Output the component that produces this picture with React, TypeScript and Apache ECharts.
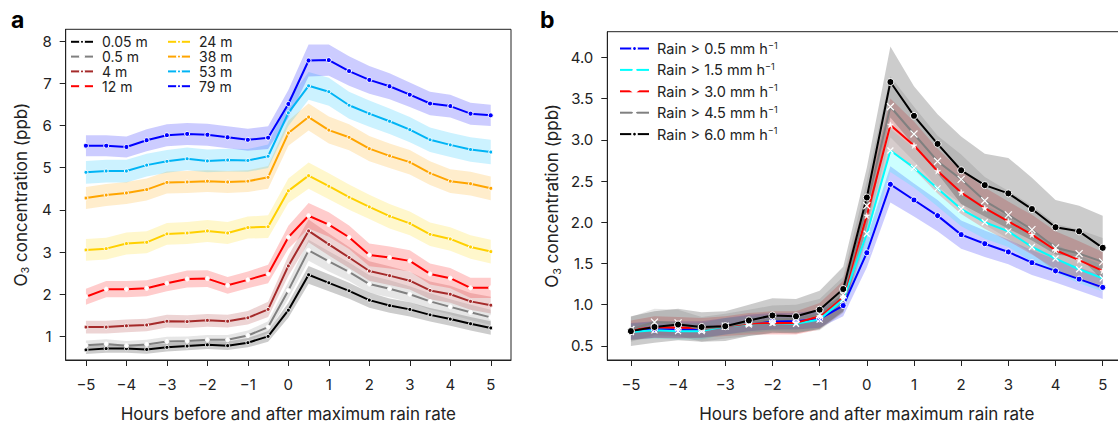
import React, { useEffect, useRef } from "react";
import * as echarts from "echarts";

const hours = [-5, -4.5, -4, -3.5, -3, -2.5, -2, -1.5, -1, -0.5, 0, 0.5, 1, 1.5, 2, 2.5, 3, 3.5, 4, 4.5, 5];
const hourTicks = [-5, -4, -3, -2, -1, 0, 1, 2, 3, 4, 5];
const ticksA = [1, 2, 3, 4, 5, 6, 7, 8];
const ticksB = [0.5, 1.0, 1.5, 2.0, 2.5, 3.0, 3.5, 4.0];

// Panel a: O3 by measurement height (mean values)
const h005 = [0.68, 0.71, 0.71, 0.69, 0.74, 0.77, 0.80, 0.78, 0.85, 1.00, 1.62, 2.46, 2.27, 2.08, 1.86, 1.73, 1.64, 1.51, 1.41, 1.30, 1.20];
const h05 = [0.79, 0.82, 0.78, 0.81, 0.88, 0.89, 0.92, 0.92, 1.02, 1.22, 2.09, 3.04, 2.78, 2.53, 2.24, 2.13, 2.00, 1.83, 1.70, 1.57, 1.45];
const h4 = [1.22, 1.22, 1.25, 1.27, 1.36, 1.35, 1.38, 1.36, 1.44, 1.64, 2.67, 3.50, 3.18, 2.87, 2.55, 2.44, 2.32, 2.09, 2.00, 1.83, 1.74];
const h12 = [1.94, 2.12, 2.12, 2.14, 2.26, 2.36, 2.37, 2.21, 2.34, 2.48, 3.35, 3.86, 3.65, 3.35, 2.93, 2.87, 2.79, 2.48, 2.38, 2.15, 2.15];
const h24 = [3.05, 3.08, 3.20, 3.23, 3.43, 3.45, 3.50, 3.45, 3.58, 3.60, 4.45, 4.81, 4.56, 4.30, 4.07, 3.85, 3.68, 3.42, 3.31, 3.12, 3.01];
const h38 = [4.28, 4.35, 4.40, 4.48, 4.65, 4.66, 4.68, 4.66, 4.68, 4.77, 5.82, 6.20, 5.89, 5.72, 5.45, 5.28, 5.13, 4.87, 4.68, 4.62, 4.51];
const h53 = [4.89, 4.92, 4.92, 5.06, 5.15, 5.21, 5.16, 5.18, 5.17, 5.27, 6.30, 6.94, 6.80, 6.48, 6.28, 6.10, 5.90, 5.66, 5.54, 5.43, 5.37];
const h79 = [5.52, 5.52, 5.49, 5.65, 5.77, 5.80, 5.78, 5.72, 5.66, 5.71, 6.51, 7.54, 7.55, 7.29, 7.08, 6.93, 6.73, 6.52, 6.46, 6.28, 6.24];

// Panel a: half-widths of the shaded bands
const e005 = [0.10, 0.10, 0.10, 0.10, 0.10, 0.10, 0.10, 0.10, 0.11, 0.13, 0.18, 0.21, 0.20, 0.19, 0.18, 0.17, 0.17, 0.16, 0.16, 0.16, 0.16];
const e05 = [0.11, 0.11, 0.11, 0.11, 0.11, 0.11, 0.11, 0.11, 0.12, 0.14, 0.20, 0.25, 0.24, 0.22, 0.21, 0.20, 0.19, 0.19, 0.18, 0.18, 0.18];
const e4 = [0.15, 0.15, 0.15, 0.15, 0.15, 0.15, 0.15, 0.15, 0.16, 0.18, 0.24, 0.27, 0.26, 0.25, 0.23, 0.22, 0.21, 0.21, 0.20, 0.20, 0.20];
const e12 = [0.19, 0.19, 0.19, 0.19, 0.19, 0.20, 0.20, 0.20, 0.20, 0.22, 0.27, 0.30, 0.29, 0.28, 0.27, 0.26, 0.25, 0.25, 0.24, 0.24, 0.24];
const e24 = [0.26, 0.26, 0.26, 0.26, 0.26, 0.26, 0.26, 0.26, 0.26, 0.27, 0.29, 0.31, 0.31, 0.30, 0.29, 0.29, 0.28, 0.28, 0.28, 0.28, 0.28];
const e38 = [0.26, 0.26, 0.26, 0.26, 0.26, 0.26, 0.26, 0.26, 0.26, 0.27, 0.30, 0.32, 0.32, 0.31, 0.30, 0.29, 0.29, 0.28, 0.28, 0.28, 0.28];
const e53 = [0.27, 0.27, 0.27, 0.27, 0.27, 0.27, 0.27, 0.27, 0.27, 0.28, 0.31, 0.33, 0.33, 0.32, 0.31, 0.30, 0.30, 0.29, 0.29, 0.29, 0.29];
const e79 = [0.25, 0.25, 0.25, 0.26, 0.26, 0.26, 0.26, 0.26, 0.26, 0.27, 0.33, 0.38, 0.37, 0.35, 0.33, 0.31, 0.29, 0.28, 0.27, 0.26, 0.25];

// Panel b: O3 by rain-rate threshold (mean values)
const r05 = [0.68, 0.70, 0.70, 0.70, 0.74, 0.78, 0.80, 0.80, 0.83, 0.99, 1.63, 2.46, 2.27, 2.08, 1.85, 1.74, 1.64, 1.51, 1.41, 1.31, 1.21];
const r15 = [0.67, 0.69, 0.68, 0.68, 0.74, 0.76, 0.78, 0.77, 0.82, 1.06, 1.86, 2.87, 2.66, 2.41, 2.16, 2.00, 1.89, 1.70, 1.56, 1.43, 1.32];
const r30 = [0.69, 0.73, 0.72, 0.72, 0.74, 0.77, 0.78, 0.78, 0.86, 1.10, 2.08, 3.18, 2.93, 2.62, 2.36, 2.17, 2.01, 1.85, 1.66, 1.54, 1.41];
const r45 = [0.70, 0.79, 0.78, 0.70, 0.74, 0.78, 0.82, 0.83, 0.88, 1.12, 2.20, 3.40, 3.07, 2.74, 2.52, 2.26, 2.09, 1.91, 1.69, 1.62, 1.52];
const r60 = [0.68, 0.73, 0.76, 0.73, 0.74, 0.81, 0.87, 0.86, 0.94, 1.19, 2.30, 3.70, 3.29, 2.95, 2.63, 2.45, 2.35, 2.16, 1.94, 1.89, 1.69];

// Panel b: half-widths of the shaded bands
const q05 = [0.10, 0.10, 0.10, 0.10, 0.10, 0.10, 0.10, 0.10, 0.11, 0.13, 0.18, 0.22, 0.20, 0.19, 0.17, 0.16, 0.15, 0.15, 0.14, 0.14, 0.14];
const q15 = [0.10, 0.10, 0.10, 0.10, 0.10, 0.10, 0.10, 0.10, 0.12, 0.15, 0.22, 0.26, 0.24, 0.22, 0.21, 0.20, 0.19, 0.18, 0.17, 0.17, 0.16];
const q30 = [0.12, 0.13, 0.13, 0.12, 0.12, 0.13, 0.14, 0.14, 0.16, 0.19, 0.27, 0.32, 0.29, 0.27, 0.26, 0.25, 0.24, 0.24, 0.23, 0.23, 0.23];
const q45 = [0.15, 0.16, 0.16, 0.15, 0.15, 0.16, 0.17, 0.17, 0.19, 0.22, 0.30, 0.37, 0.33, 0.31, 0.30, 0.29, 0.29, 0.29, 0.29, 0.29, 0.29];
const q60 = [0.18, 0.19, 0.19, 0.18, 0.18, 0.19, 0.21, 0.21, 0.23, 0.27, 0.36, 0.43, 0.36, 0.36, 0.41, 0.38, 0.43, 0.38, 0.33, 0.31, 0.39];

const namesA = ["0.05 m", "0.5 m", "4 m", "12 m", "24 m", "38 m", "53 m", "79 m"];
const namesB = ["Rain > 0.5 mm h", "Rain > 1.5 mm h", "Rain > 3.0 mm h", "Rain > 4.5 mm h", "Rain > 6.0 mm h"];

const FONT = "Inter, 'Noto Sans', sans-serif";
const TXT = "#222";

const X_SYM = "path://M0,0L10,10M10,0L0,10";
const STAR_SYM = "path://M5,0L6.2,3.6L10,3.6L6.9,5.8L8.1,9.5L5,7.2L1.9,9.5L3.1,5.8L0,3.6L3.8,3.6Z";

function band(gi: number, mean: number[], hw: number[], fill: string) {
  return {
    type: "custom",
    xAxisIndex: gi,
    yAxisIndex: gi,
    silent: true,
    clip: true,
    z: 1,
    data: hours.map((h, i) => [h, mean[i] - hw[i], mean[i] + hw[i]]),
    encode: { x: 0, y: [1, 2] },
    renderItem: (params: any, api: any) => {
      if (params.dataIndex !== 0) return null;
      const pts: number[][] = [];
      for (let i = 0; i < hours.length; i++) pts.push(api.coord([hours[i], mean[i] + hw[i]]));
      for (let i = hours.length - 1; i >= 0; i--) pts.push(api.coord([hours[i], mean[i] - hw[i]]));
      return { type: "polygon", shape: { points: pts }, style: { fill, stroke: "none" } };
    },
  };
}

function line(gi: number, name: string, vals: number[], color: string, symbol: string, size: number, fill: string, border: string, bw: number, extra: any = {}) {
  return {
    type: "line",
    name,
    xAxisIndex: gi,
    yAxisIndex: gi,
    z: 3,
    data: hours.map((h, i) => [h, vals[i]]),
    symbol,
    symbolSize: size,
    showSymbol: true,
    lineStyle: { color, width: 2 },
    itemStyle: { color: fill, borderColor: border, borderWidth: bw },
    emphasis: { disabled: true },
    ...extra,
  };
}

const fmtHour = (v: number) => (v < 0 ? "\u2212" + Math.abs(v) : String(v));

function xAxis(gi: number) {
  return {
    type: "value",
    gridIndex: gi,
    min: -5.5,
    max: 5.5,
    splitLine: { show: false },
    axisLine: { show: true, onZero: false, lineStyle: { color: TXT, width: 1 } },
    axisTick: { show: true, length: 6, customValues: hourTicks, lineStyle: { color: TXT } },
    axisLabel: { customValues: hourTicks, formatter: fmtHour, fontSize: 15, color: TXT, fontFamily: FONT, margin: 17 },
    name: "Hours before and after maximum rain rate",
    nameLocation: "middle",
    nameGap: 45,
    nameTextStyle: { fontSize: 17, color: TXT, fontFamily: FONT },
  };
}

function yAxis(gi: number, min: number, max: number, ticks: number[], fmt: (v: number) => string, gap: number) {
  return {
    type: "value",
    gridIndex: gi,
    min,
    max,
    splitLine: { show: false },
    axisLine: { show: true, onZero: false, lineStyle: { color: TXT, width: 1 } },
    axisTick: { show: true, length: 6, customValues: ticks, lineStyle: { color: TXT } },
    axisLabel: { customValues: ticks, formatter: fmt, fontSize: 15, color: TXT, fontFamily: FONT, margin: 14 },
    name: "{a|O}{b|3}{a| concentration (ppb)}",
    nameLocation: "middle",
    nameGap: gap,
    nameTextStyle: {
      color: TXT,
      fontFamily: FONT,
      rich: {
        a: { fontSize: 17, color: TXT, fontFamily: FONT, lineHeight: 20 },
        b: { fontSize: 11, color: TXT, fontFamily: FONT, verticalAlign: "bottom", lineHeight: 11 },
      },
    },
  };
}

const legendA = (names: string[], left: number) => ({
  data: names,
  orient: "vertical",
  left,
  top: 34.8,
  padding: 0,
  itemWidth: 22,
  itemHeight: 5,
  itemGap: 0.8,
  textStyle: { fontSize: 14, lineHeight: 14, color: TXT, fontFamily: FONT, padding: [0, 0, 0, 4] },
});

const option: any = {
  animation: false,
  backgroundColor: "#fff",
  textStyle: { fontFamily: FONT },
  grid: [
    { left: 65.7, top: 29.3, width: 445.3, height: 336.4, show: true, borderColor: TXT, borderWidth: 1, backgroundColor: "transparent" },
    { left: 607.3, top: 31.7, width: 519, height: 333.3, show: true, borderColor: TXT, borderWidth: 1, backgroundColor: "transparent" },
  ],
  xAxis: [xAxis(0), xAxis(1)],
  yAxis: [
    yAxis(0, 0.44, 8.28, ticksA, (v: number) => String(v), 35),
    yAxis(1, 0.33, 4.31, ticksB, (v: number) => v.toFixed(1), 45),
  ],
  legend: [
    legendA(namesA.slice(0, 4), 70),
    legendA(namesA.slice(4), 167),
    {
      data: namesB,
      orient: "vertical",
      left: 619,
      top: 40.5,
      padding: 0,
      itemWidth: 29,
      itemHeight: 6,
      itemGap: 5.9,
      formatter: (n: string) => `{t|${n}}{s|\u22121}`,
      textStyle: {
        fontSize: 14.5,
        color: TXT,
        fontFamily: FONT,
        padding: [0, 0, 0, 3],
        rich: {
          t: { fontSize: 14.5, color: TXT, fontFamily: FONT, lineHeight: 16 },
          s: { fontSize: 9, color: TXT, fontFamily: FONT, verticalAlign: "top", lineHeight: 9 },
        },
      },
    },
  ],
  graphic: [
    { type: "text", left: 11, top: 8, style: { text: "a", font: "bold 23px Inter, sans-serif", fill: "#000" } },
    { type: "text", left: 540, top: 8, style: { text: "b", font: "bold 23px Inter, sans-serif", fill: "#000" } },
  ],
  series: [
    // panel a bands
    band(0, h005, e005, "rgba(0,0,0,0.2)"),
    band(0, h05, e05, "rgba(128,128,128,0.2)"),
    band(0, h4, e4, "rgba(165,42,42,0.2)"),
    band(0, h12, e12, "rgba(255,0,0,0.2)"),
    band(0, h24, e24, "rgba(255,215,0,0.2)"),
    band(0, h38, e38, "rgba(255,165,0,0.2)"),
    band(0, h53, e53, "rgba(0,191,255,0.2)"),
    band(0, h79, e79, "rgba(0,0,255,0.2)"),
    // panel a lines
    line(0, namesA[0], h005, "#000000", "circle", 4, "#000000", "#ffffff", 1),
    line(0, namesA[1], h05, "#808080", "circle", 4, "#ffffff", "#ffffff", 1),
    line(0, namesA[2], h4, "#a52a2a", "circle", 4, "#a52a2a", "#ffffff", 1),
    line(0, namesA[3], h12, "#ff0000", "circle", 4, "#ffffff", "#ffffff", 1),
    line(0, namesA[4], h24, "#ffd000", "circle", 4, "#ffd000", "#ffffff", 1),
    line(0, namesA[5], h38, "#ffa500", "circle", 4, "#ffa500", "#ffffff", 1),
    line(0, namesA[6], h53, "#00b4f5", "circle", 4, "#00b4f5", "#ffffff", 1),
    line(0, namesA[7], h79, "#0000ff", "circle", 5, "#0000ff", "#ffffff", 1),
    // panel b bands
    band(1, r05, q05, "rgba(0,0,255,0.2)"),
    band(1, r15, q15, "rgba(0,255,255,0.2)"),
    band(1, r30, q30, "rgba(255,0,0,0.2)"),
    band(1, r45, q45, "rgba(128,128,128,0.2)"),
    band(1, r60, q60, "rgba(0,0,0,0.2)"),
    // panel b lines
    line(1, namesB[0], r05, "#0000ff", "circle", 6, "#0000ff", "#ffffff", 1),
    line(1, namesB[1], r15, "#00ffff", X_SYM, 6, "#ffffff", "#ffffff", 1.2),
    line(1, namesB[2], r30, "#ff0000", STAR_SYM, 6, "#ffffff", "#ffffff", 0.5),
    line(1, namesB[3], r45, "#808080", X_SYM, 7, "#ffffff", "#ffffff", 1.2),
    line(1, namesB[4], r60, "#000000", "circle", 7, "#000000", "#ffffff", 1),
  ],
};

export default function App() {
  const ref = useRef<HTMLDivElement>(null);
  useEffect(() => {
    if (!ref.current) return;
    const chart = echarts.init(ref.current, null, { renderer: "svg" });
    chart.setOption(option);
    return () => chart.dispose();
  }, []);
  return (
    <div style={{ position: "fixed", left: 0, top: 0, width: 1118, height: 427, overflow: "hidden", background: "#fff" }}>
      <div ref={ref} style={{ width: 1140, height: 427 }} />
    </div>
  );
}
